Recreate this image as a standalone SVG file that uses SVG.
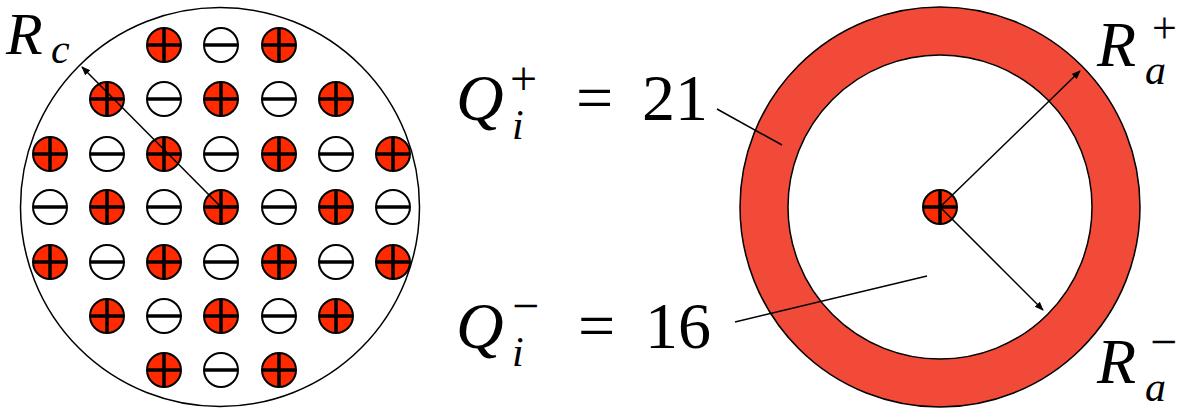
<svg xmlns="http://www.w3.org/2000/svg" width="1195" height="411" viewBox="0 0 1195 411">
<defs>
<symbol id="p" overflow="visible"><circle cx="0" cy="0" r="17" fill="#ff2a00" stroke="#000" stroke-width="2"/><path d="M-17,0 H17 M0,-17 V17" stroke="#000" stroke-width="3.5"/></symbol>
<symbol id="n" overflow="visible"><circle cx="0" cy="0" r="17" fill="#fff" stroke="#000" stroke-width="2"/><path d="M-17,0 H17" stroke="#000" stroke-width="3.5"/></symbol>
<marker id="ah" viewBox="0 0 10 10" refX="9" refY="5" markerWidth="9" markerHeight="9" markerUnits="userSpaceOnUse" orient="auto"><path d="M0,1 L10,5 L0,9 z" fill="#000"/></marker>
</defs>
<g id="cluster">
<circle cx="220" cy="207" r="199.5" fill="none" stroke="#000" stroke-width="1.5"/>
<use href="#p" x="164" y="45"/><use href="#n" x="221" y="45"/><use href="#p" x="279" y="45"/>
<use href="#p" x="107" y="99"/><use href="#n" x="164" y="99"/><use href="#p" x="221" y="99"/><use href="#n" x="279" y="99"/><use href="#p" x="336" y="99"/>
<use href="#p" x="50" y="154"/><use href="#n" x="107" y="154"/><use href="#p" x="164" y="154"/><use href="#n" x="221" y="154"/><use href="#p" x="279" y="154"/><use href="#n" x="336" y="154"/><use href="#p" x="393" y="154"/>
<use href="#n" x="50" y="207"/><use href="#p" x="107" y="207"/><use href="#n" x="164" y="207"/><use href="#p" x="221" y="207"/><use href="#n" x="279" y="207"/><use href="#p" x="336" y="207"/><use href="#n" x="393" y="207"/>
<use href="#p" x="50" y="262"/><use href="#n" x="107" y="262"/><use href="#p" x="164" y="262"/><use href="#n" x="221" y="262"/><use href="#p" x="279" y="262"/><use href="#n" x="336" y="262"/><use href="#p" x="393" y="262"/>
<use href="#p" x="107" y="316"/><use href="#n" x="164" y="316"/><use href="#p" x="221" y="316"/><use href="#n" x="279" y="316"/><use href="#p" x="336" y="316"/>
<use href="#p" x="164" y="370"/><use href="#n" x="221" y="370"/><use href="#p" x="279" y="370"/>
</g>
<g id="ring">
<circle cx="940" cy="207" r="200" fill="#f24a38" stroke="#000" stroke-width="1.5"/>
<circle cx="940" cy="207" r="152" fill="#fff" stroke="#000" stroke-width="1.5"/>
<use href="#p" x="940" y="207"/>
</g>
<g id="connectors" fill="none" stroke="#000" stroke-width="1.5">
<line x1="221" y1="207" x2="82" y2="67" marker-end="url(#ah)"/>
<line x1="940" y1="207" x2="1080" y2="71" marker-end="url(#ah)"/>
<line x1="940" y1="207" x2="1043" y2="310" marker-end="url(#ah)"/>
<line x1="717" y1="109" x2="782" y2="145"/>
<line x1="735" y1="322" x2="927" y2="276"/>
</g>
<g id="labels" fill="#000" font-family="'Liberation Serif', 'DejaVu Serif', serif">
<text font-family="'Liberation Serif', 'DejaVu Serif', serif" font-style="italic" x="6" y="54" font-size="60">R</text>
<text font-family="'Liberation Serif', 'DejaVu Serif', serif" font-style="italic" x="51" y="63" font-size="42">c</text>
<text font-family="'Liberation Serif', 'DejaVu Serif', serif" font-style="italic" x="1097" y="66" font-size="64">R</text>
<text font-family="'Liberation Serif', 'DejaVu Serif', serif" font-style="italic" x="1145" y="84" font-size="42">a</text>
<text font-family="'Liberation Serif', 'DejaVu Serif', serif" x="1152" y="43" font-size="44">+</text>
<text font-family="'Liberation Serif', 'DejaVu Serif', serif" font-style="italic" x="1097" y="383" font-size="64">R</text>
<text font-family="'Liberation Serif', 'DejaVu Serif', serif" font-style="italic" x="1145" y="401" font-size="42">a</text>
<text font-family="'Liberation Serif', 'DejaVu Serif', serif" x="1150" y="358" font-size="48">&#8722;</text>
<text font-family="'Liberation Serif', 'DejaVu Serif', serif" font-style="italic" x="456" y="120" font-size="66">Q</text>
<text font-family="'Liberation Serif', 'DejaVu Serif', serif" font-style="italic" x="512" y="139" font-size="42">i</text>
<text font-family="'Liberation Serif', 'DejaVu Serif', serif" x="510" y="95" font-size="48">+</text>
<text font-family="'Liberation Serif', 'DejaVu Serif', serif" x="576" y="120" font-size="66">=</text>
<text font-family="'Liberation Serif', 'DejaVu Serif', serif" x="642" y="120" font-size="66">21</text>
<text font-family="'Liberation Serif', 'DejaVu Serif', serif" font-style="italic" x="456" y="348" font-size="66">Q</text>
<text font-family="'Liberation Serif', 'DejaVu Serif', serif" font-style="italic" x="512" y="366" font-size="42">i</text>
<text font-family="'Liberation Serif', 'DejaVu Serif', serif" x="512" y="322" font-size="48">&#8722;</text>
<text font-family="'Liberation Serif', 'DejaVu Serif', serif" x="578" y="348" font-size="66">=</text>
<text font-family="'Liberation Serif', 'DejaVu Serif', serif" x="645" y="348" font-size="66">16</text>
</g>
</svg>
